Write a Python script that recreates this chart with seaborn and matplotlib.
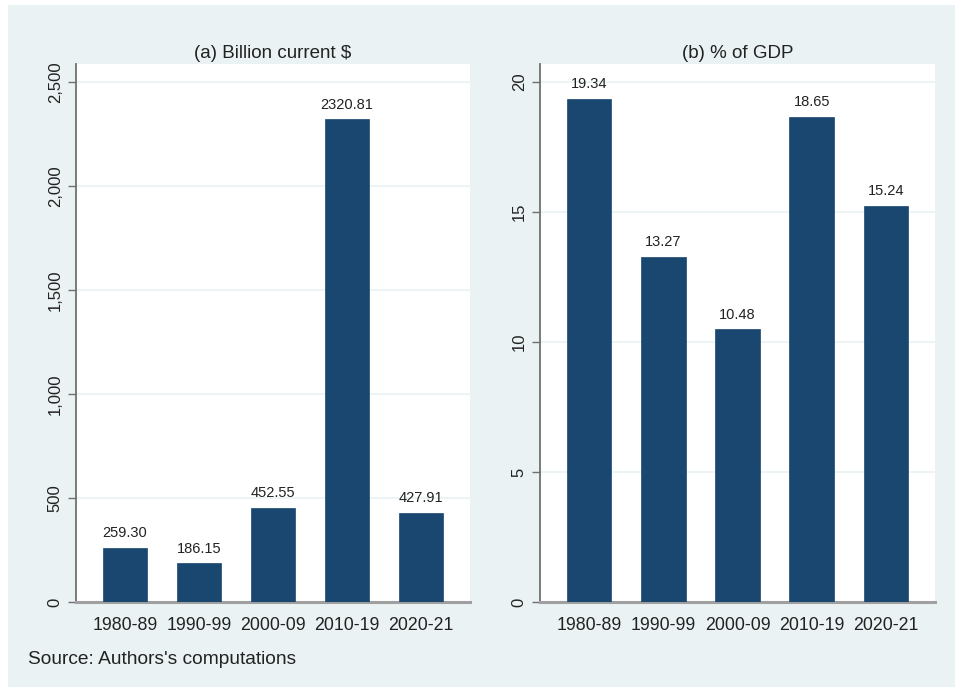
import matplotlib
matplotlib.use("Agg")
import matplotlib.pyplot as plt
import seaborn as sns
import pandas as pd
from matplotlib.patches import Rectangle
from matplotlib.ticker import FuncFormatter

periods = ["1980-89", "1990-99", "2000-09", "2010-19", "2020-21"]
billion_usd = [259.30, 186.15, 452.55, 2320.81, 427.91]
pct_gdp = [19.34, 13.27, 10.48, 18.65, 15.24]
ticks_a = [0, 500, 1000, 1500, 2000, 2500]
ticks_b = [0, 5, 10, 15, 20]
title_a = "(a) Billion current $"
title_b = "(b) % of GDP"
source = "Source: Authors's computations"

sns.set_theme(style="white")
plt.rcParams["font.family"] = ["Liberation Sans", "DejaVu Sans"]

W, H = 955, 687
fig = plt.figure(figsize=(W / 100, H / 100), dpi=100, facecolor="white")
BG = "#EAF2F3"
BAR = "#1A476F"
fig.patches.append(Rectangle((8 / W, 0), 1 - 8 / W, (H - 5) / H, transform=fig.transFigure,
                             facecolor=BG, edgecolor="none", zorder=-10))


def px_axes(x0, x1, ytop, ybot):
    return fig.add_axes([x0 / W, (H - ybot) / H, (x1 - x0) / W, (ybot - ytop) / H])


def panel(ax, values, ticks, ylim, title, fmt):
    df = pd.DataFrame({"period": periods, "value": values})
    sns.barplot(data=df, x="period", y="value", color=BAR, saturation=1, width=0.6,
                ax=ax, zorder=3, edgecolor=BAR, linewidth=0.5)
    ax.set_facecolor("white")
    ax.set_xlim(-0.662, 4.662)
    ax.set_ylim(*ylim)
    ax.set_yticks(ticks)
    ax.yaxis.set_major_formatter(FuncFormatter(lambda v, p: fmt.format(v)))
    ax.grid(axis="y", color=BG, linewidth=1.2, zorder=0)
    ax.set_axisbelow(True)
    ax.set_xlabel("")
    ax.set_ylabel("")
    for s in ["top", "right"]:
        ax.spines[s].set_visible(False)
    ax.spines["left"].set_color("#707070")
    ax.spines["left"].set_linewidth(1.3)
    ax.spines["bottom"].set_color("#A0A0A0")
    ax.spines["bottom"].set_linewidth(2.2)
    ax.tick_params(axis="y", which="major", left=True, length=6, width=1, color="#707070",
                   pad=3.5, labelsize=12, labelcolor="#222222")
    ax.tick_params(axis="x", bottom=False, pad=4.5, labelsize=12.8, labelcolor="#222222")
    for lab in ax.get_yticklabels():
        lab.set_rotation(90)
        lab.set_va("center")
    for i, v in enumerate(values):
        ax.annotate(f"{v:.2f}", (i, v), xytext=(0, 5.5), textcoords="offset points",
                    ha="center", va="bottom", fontsize=10.5, color="#222222", zorder=5)
    ax.set_title(title, fontsize=13.5, color="#222222", pad=4)


ax1 = px_axes(76, 470, 64, 602)
panel(ax1, billion_usd, ticks_a, (0, 2587), title_a, "{:,.0f}")

ax2 = px_axes(540, 935, 64, 602)
panel(ax2, pct_gdp, ticks_b, (0, 20.69), title_b, "{:.0f}")

fig.text(28 / W, 1 - 660 / H, source, fontsize=13.8, color="#222222", ha="left", va="center")

fig.savefig("out.png", dpi=100, facecolor="white")
